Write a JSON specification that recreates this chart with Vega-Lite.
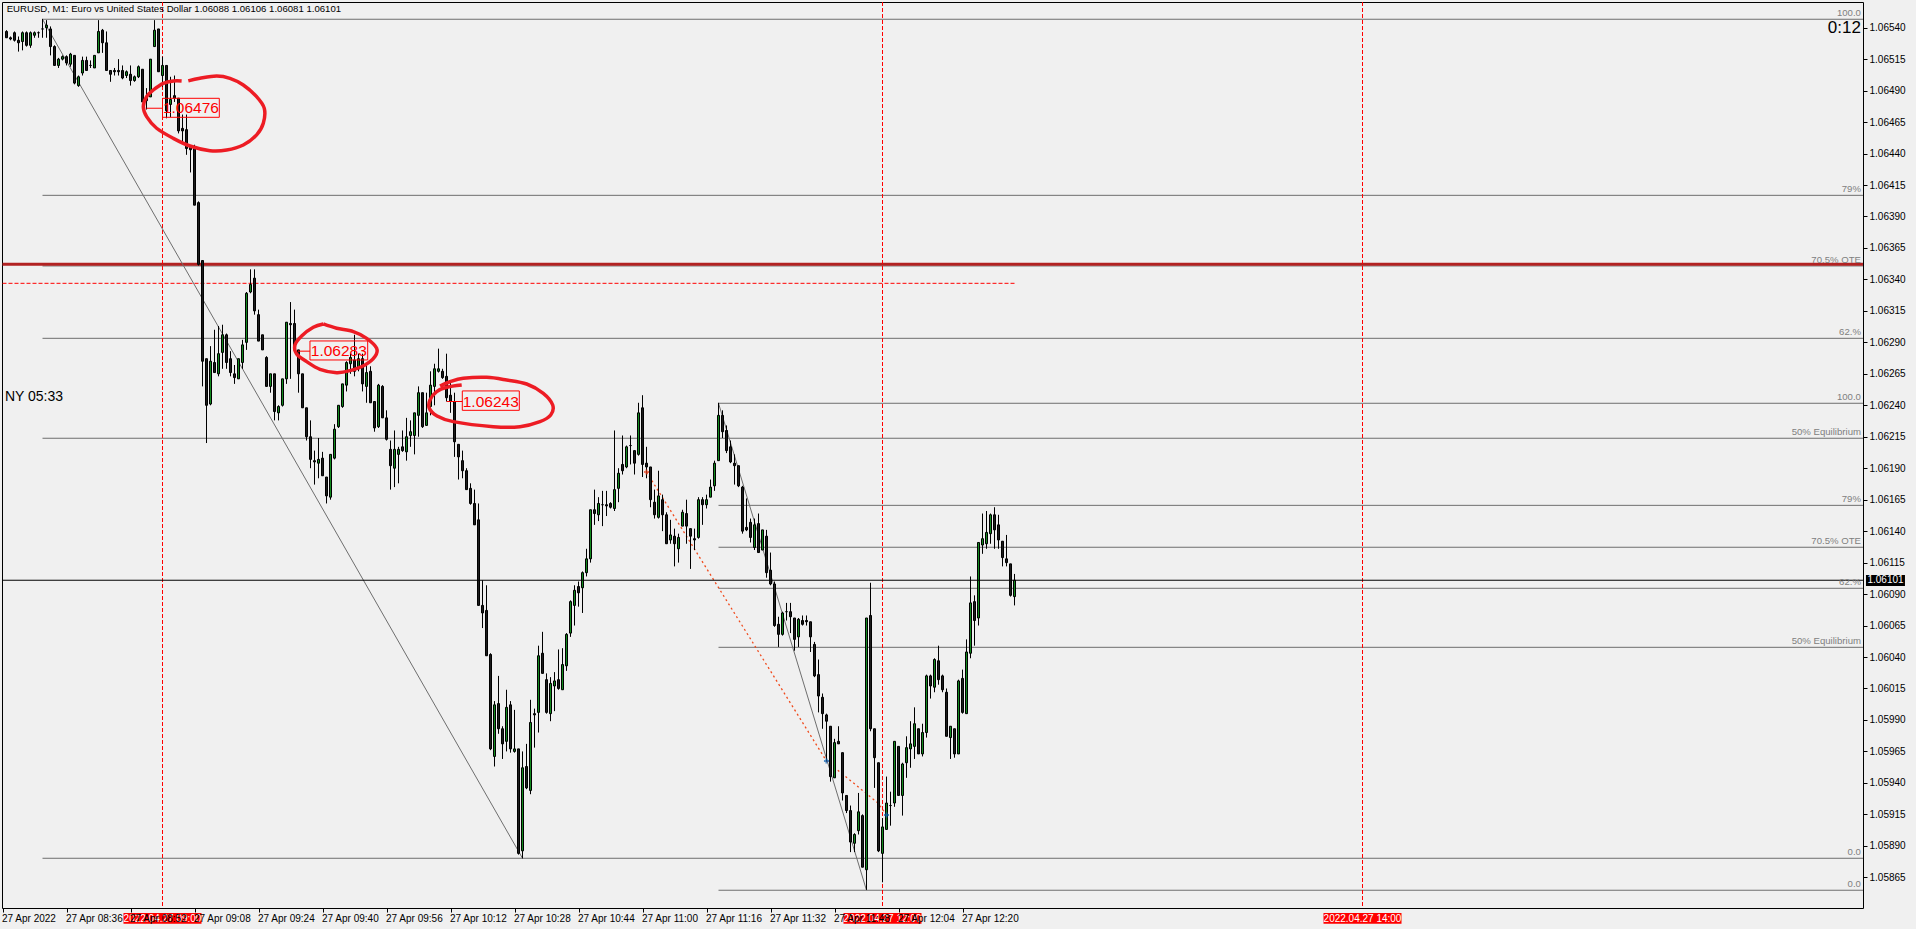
{"$schema":"https://vega.github.io/schema/vega-lite/v6.json","width":1861,"height":906,"autosize":"none","padding":{"left":2,"top":2,"right":53,"bottom":21},"background":"#f0f0f0","config":{"view":{"stroke":"#000000","strokeWidth":1,"fill":"#f0f0f0"},"font":"Liberation Sans","scale":{"continuousPadding":0}},
"datasets":{"candles":[
{"t":"2022-04-27T08:21","o":1.06537,"h":1.06538,"l":1.06532,"c":1.06532},
{"t":"2022-04-27T08:22","o":1.06532,"h":1.06533,"l":1.0653,"c":1.06531},
{"t":"2022-04-27T08:23","o":1.06536,"h":1.06537,"l":1.06529,"c":1.0653},
{"t":"2022-04-27T08:24","o":1.0653,"h":1.06533,"l":1.06521,"c":1.06528},
{"t":"2022-04-27T08:25","o":1.06529,"h":1.06537,"l":1.06522,"c":1.06536},
{"t":"2022-04-27T08:26","o":1.06536,"h":1.06537,"l":1.06525,"c":1.06526},
{"t":"2022-04-27T08:27","o":1.06526,"h":1.06537,"l":1.06524,"c":1.06536},
{"t":"2022-04-27T08:28","o":1.06534,"h":1.06537,"l":1.06532,"c":1.06536},
{"t":"2022-04-27T08:29","o":1.06536,"h":1.06537,"l":1.06532,"c":1.06536},
{"t":"2022-04-27T08:30","o":1.06539,"h":1.06547,"l":1.06532,"c":1.06539},
{"t":"2022-04-27T08:31","o":1.0654,"h":1.06546,"l":1.06532,"c":1.06542},
{"t":"2022-04-27T08:32","o":1.06539,"h":1.06541,"l":1.06518,"c":1.06525},
{"t":"2022-04-27T08:33","o":1.06525,"h":1.06526,"l":1.0651,"c":1.0651},
{"t":"2022-04-27T08:34","o":1.0651,"h":1.06516,"l":1.06508,"c":1.06515},
{"t":"2022-04-27T08:35","o":1.06515,"h":1.06518,"l":1.06514,"c":1.06517},
{"t":"2022-04-27T08:36","o":1.06517,"h":1.06518,"l":1.0651,"c":1.06512},
{"t":"2022-04-27T08:37","o":1.06511,"h":1.0652,"l":1.06509,"c":1.06519},
{"t":"2022-04-27T08:38","o":1.06518,"h":1.06518,"l":1.06495,"c":1.06496},
{"t":"2022-04-27T08:39","o":1.06494,"h":1.06502,"l":1.06493,"c":1.06501},
{"t":"2022-04-27T08:40","o":1.06504,"h":1.06517,"l":1.06502,"c":1.06514},
{"t":"2022-04-27T08:41","o":1.06514,"h":1.06517,"l":1.06506,"c":1.06506},
{"t":"2022-04-27T08:42","o":1.0651,"h":1.06514,"l":1.06508,"c":1.0651},
{"t":"2022-04-27T08:43","o":1.06508,"h":1.06518,"l":1.06508,"c":1.06518},
{"t":"2022-04-27T08:44","o":1.0652,"h":1.06546,"l":1.0652,"c":1.06537},
{"t":"2022-04-27T08:45","o":1.06538,"h":1.06539,"l":1.0652,"c":1.06528},
{"t":"2022-04-27T08:46","o":1.06528,"h":1.06537,"l":1.06506,"c":1.06506},
{"t":"2022-04-27T08:47","o":1.06506,"h":1.06506,"l":1.06497,"c":1.06503},
{"t":"2022-04-27T08:48","o":1.06506,"h":1.06508,"l":1.06502,"c":1.06505},
{"t":"2022-04-27T08:49","o":1.06506,"h":1.06515,"l":1.06502,"c":1.06505},
{"t":"2022-04-27T08:50","o":1.06506,"h":1.0651,"l":1.06499,"c":1.065},
{"t":"2022-04-27T08:51","o":1.06502,"h":1.06506,"l":1.065,"c":1.06505},
{"t":"2022-04-27T08:52","o":1.06503,"h":1.0651,"l":1.06494,"c":1.06498},
{"t":"2022-04-27T08:53","o":1.06498,"h":1.06502,"l":1.06497,"c":1.06501},
{"t":"2022-04-27T08:54","o":1.06501,"h":1.0651,"l":1.065,"c":1.06509},
{"t":"2022-04-27T08:55","o":1.06507,"h":1.06507,"l":1.06481,"c":1.06481},
{"t":"2022-04-27T08:56","o":1.06484,"h":1.06492,"l":1.06475,"c":1.06482},
{"t":"2022-04-27T08:57","o":1.06485,"h":1.06515,"l":1.06485,"c":1.06515},
{"t":"2022-04-27T08:58","o":1.06525,"h":1.06546,"l":1.06525,"c":1.06538},
{"t":"2022-04-27T08:59","o":1.06539,"h":1.06539,"l":1.06505,"c":1.06505},
{"t":"2022-04-27T09:00","o":1.06502,"h":1.06517,"l":1.06493,"c":1.0651},
{"t":"2022-04-27T09:01","o":1.0651,"h":1.0651,"l":1.06468,"c":1.06474},
{"t":"2022-04-27T09:02","o":1.06479,"h":1.06501,"l":1.06469,"c":1.06483},
{"t":"2022-04-27T09:03","o":1.06486,"h":1.06502,"l":1.06481,"c":1.06484},
{"t":"2022-04-27T09:04","o":1.06484,"h":1.06484,"l":1.06456,"c":1.06458},
{"t":"2022-04-27T09:05","o":1.0646,"h":1.06471,"l":1.06449,"c":1.06458},
{"t":"2022-04-27T09:06","o":1.06459,"h":1.06471,"l":1.06439,"c":1.06444},
{"t":"2022-04-27T09:07","o":1.06445,"h":1.06446,"l":1.06425,"c":1.06443},
{"t":"2022-04-27T09:08","o":1.06445,"h":1.06447,"l":1.06399,"c":1.06399},
{"t":"2022-04-27T09:09","o":1.06401,"h":1.06402,"l":1.06351,"c":1.06352},
{"t":"2022-04-27T09:10","o":1.06355,"h":1.06355,"l":1.06255,"c":1.06275},
{"t":"2022-04-27T09:11","o":1.06277,"h":1.06277,"l":1.0621,"c":1.0624},
{"t":"2022-04-27T09:12","o":1.06241,"h":1.06287,"l":1.0624,"c":1.06275},
{"t":"2022-04-27T09:13","o":1.06274,"h":1.063,"l":1.06266,"c":1.06266},
{"t":"2022-04-27T09:14","o":1.06265,"h":1.06303,"l":1.06263,"c":1.06281},
{"t":"2022-04-27T09:15","o":1.06282,"h":1.06304,"l":1.06269,"c":1.06296},
{"t":"2022-04-27T09:16","o":1.06296,"h":1.06297,"l":1.06269,"c":1.06274},
{"t":"2022-04-27T09:17","o":1.06277,"h":1.06283,"l":1.06263,"c":1.06266},
{"t":"2022-04-27T09:18","o":1.06265,"h":1.06272,"l":1.06257,"c":1.06262},
{"t":"2022-04-27T09:19","o":1.06261,"h":1.06277,"l":1.06261,"c":1.06277},
{"t":"2022-04-27T09:20","o":1.06274,"h":1.06292,"l":1.06269,"c":1.06288},
{"t":"2022-04-27T09:21","o":1.0629,"h":1.0633,"l":1.06284,"c":1.06329},
{"t":"2022-04-27T09:22","o":1.0633,"h":1.06348,"l":1.06329,"c":1.06336},
{"t":"2022-04-27T09:23","o":1.06341,"h":1.06348,"l":1.06312,"c":1.06315},
{"t":"2022-04-27T09:24","o":1.06312,"h":1.06316,"l":1.06291,"c":1.06291},
{"t":"2022-04-27T09:25","o":1.06296,"h":1.06296,"l":1.06284,"c":1.06284},
{"t":"2022-04-27T09:26","o":1.06278,"h":1.06279,"l":1.06255,"c":1.06255},
{"t":"2022-04-27T09:27","o":1.06255,"h":1.06265,"l":1.0625,"c":1.06265},
{"t":"2022-04-27T09:28","o":1.06265,"h":1.06265,"l":1.06228,"c":1.06235},
{"t":"2022-04-27T09:29","o":1.06234,"h":1.0624,"l":1.06228,"c":1.06239},
{"t":"2022-04-27T09:30","o":1.0624,"h":1.06261,"l":1.06239,"c":1.06261},
{"t":"2022-04-27T09:31","o":1.06261,"h":1.06306,"l":1.06257,"c":1.06306},
{"t":"2022-04-27T09:32","o":1.06305,"h":1.06322,"l":1.06261,"c":1.06304},
{"t":"2022-04-27T09:33","o":1.06305,"h":1.06316,"l":1.06284,"c":1.06284},
{"t":"2022-04-27T09:34","o":1.06284,"h":1.06284,"l":1.0625,"c":1.06265},
{"t":"2022-04-27T09:35","o":1.06265,"h":1.06265,"l":1.06238,"c":1.06238},
{"t":"2022-04-27T09:36","o":1.06238,"h":1.06238,"l":1.06212,"c":1.06215},
{"t":"2022-04-27T09:37","o":1.06215,"h":1.06228,"l":1.0619,"c":1.06197},
{"t":"2022-04-27T09:38","o":1.06196,"h":1.06204,"l":1.06177,"c":1.06195},
{"t":"2022-04-27T09:39","o":1.06194,"h":1.06214,"l":1.06182,"c":1.06197},
{"t":"2022-04-27T09:40","o":1.06198,"h":1.06203,"l":1.06184,"c":1.06184},
{"t":"2022-04-27T09:41","o":1.06183,"h":1.06183,"l":1.06162,"c":1.06168},
{"t":"2022-04-27T09:42","o":1.06167,"h":1.06201,"l":1.06165,"c":1.06201},
{"t":"2022-04-27T09:43","o":1.06198,"h":1.06225,"l":1.06197,"c":1.06221},
{"t":"2022-04-27T09:44","o":1.06223,"h":1.0624,"l":1.06222,"c":1.0624},
{"t":"2022-04-27T09:45","o":1.06239,"h":1.06257,"l":1.06238,"c":1.06257},
{"t":"2022-04-27T09:46","o":1.06256,"h":1.06275,"l":1.06251,"c":1.06274},
{"t":"2022-04-27T09:47","o":1.06273,"h":1.06281,"l":1.06265,"c":1.06278},
{"t":"2022-04-27T09:48","o":1.06276,"h":1.06296,"l":1.06263,"c":1.06267},
{"t":"2022-04-27T09:49","o":1.06269,"h":1.06281,"l":1.06267,"c":1.06277},
{"t":"2022-04-27T09:50","o":1.06277,"h":1.06281,"l":1.06251,"c":1.06257},
{"t":"2022-04-27T09:51","o":1.06255,"h":1.06273,"l":1.06242,"c":1.06266},
{"t":"2022-04-27T09:52","o":1.06267,"h":1.06271,"l":1.06242,"c":1.06242},
{"t":"2022-04-27T09:53","o":1.06243,"h":1.06243,"l":1.06219,"c":1.06222},
{"t":"2022-04-27T09:54","o":1.06223,"h":1.06257,"l":1.06222,"c":1.06256},
{"t":"2022-04-27T09:55","o":1.06255,"h":1.06256,"l":1.0623,"c":1.0623},
{"t":"2022-04-27T09:56","o":1.0623,"h":1.06236,"l":1.06212,"c":1.06213},
{"t":"2022-04-27T09:57","o":1.06205,"h":1.06212,"l":1.06173,"c":1.06192},
{"t":"2022-04-27T09:58","o":1.0619,"h":1.0622,"l":1.06175,"c":1.06205},
{"t":"2022-04-27T09:59","o":1.06201,"h":1.06207,"l":1.06178,"c":1.06205},
{"t":"2022-04-27T10:00","o":1.06207,"h":1.0622,"l":1.06203,"c":1.06204},
{"t":"2022-04-27T10:01","o":1.06203,"h":1.0623,"l":1.06196,"c":1.06215},
{"t":"2022-04-27T10:02","o":1.06216,"h":1.06228,"l":1.06207,"c":1.06219},
{"t":"2022-04-27T10:03","o":1.06216,"h":1.06234,"l":1.06201,"c":1.06234},
{"t":"2022-04-27T10:04","o":1.06232,"h":1.06255,"l":1.06215,"c":1.0625},
{"t":"2022-04-27T10:05","o":1.0625,"h":1.0625,"l":1.06222,"c":1.06223},
{"t":"2022-04-27T10:06","o":1.06224,"h":1.0625,"l":1.06224,"c":1.06234},
{"t":"2022-04-27T10:07","o":1.06239,"h":1.06267,"l":1.06232,"c":1.06256},
{"t":"2022-04-27T10:08","o":1.06255,"h":1.06273,"l":1.0624,"c":1.06269},
{"t":"2022-04-27T10:09","o":1.06267,"h":1.06285,"l":1.06266,"c":1.06269},
{"t":"2022-04-27T10:10","o":1.06267,"h":1.06269,"l":1.06261,"c":1.06262},
{"t":"2022-04-27T10:11","o":1.06263,"h":1.06281,"l":1.06243,"c":1.06246},
{"t":"2022-04-27T10:12","o":1.06248,"h":1.0626,"l":1.06234,"c":1.06243},
{"t":"2022-04-27T10:13","o":1.06243,"h":1.0625,"l":1.06199,"c":1.06211},
{"t":"2022-04-27T10:14","o":1.06209,"h":1.06209,"l":1.06181,"c":1.06199},
{"t":"2022-04-27T10:15","o":1.06196,"h":1.06204,"l":1.06182,"c":1.06188},
{"t":"2022-04-27T10:16","o":1.06188,"h":1.0619,"l":1.06173,"c":1.06173},
{"t":"2022-04-27T10:17","o":1.06174,"h":1.06178,"l":1.06161,"c":1.06162},
{"t":"2022-04-27T10:18","o":1.06162,"h":1.06173,"l":1.06145,"c":1.06145},
{"t":"2022-04-27T10:19","o":1.06149,"h":1.06162,"l":1.06081,"c":1.06081},
{"t":"2022-04-27T10:20","o":1.06081,"h":1.06101,"l":1.06063,"c":1.06075},
{"t":"2022-04-27T10:21","o":1.06077,"h":1.06097,"l":1.06041,"c":1.06041},
{"t":"2022-04-27T10:22","o":1.06042,"h":1.06043,"l":1.05966,"c":1.05967},
{"t":"2022-04-27T10:23","o":1.05961,"h":1.06005,"l":1.05953,"c":1.06002},
{"t":"2022-04-27T10:24","o":1.06003,"h":1.06025,"l":1.05979,"c":1.05983},
{"t":"2022-04-27T10:25","o":1.05983,"h":1.05985,"l":1.05959,"c":1.05971},
{"t":"2022-04-27T10:26","o":1.05973,"h":1.06014,"l":1.05965,"c":1.06},
{"t":"2022-04-27T10:27","o":1.06002,"h":1.06005,"l":1.05964,"c":1.05967},
{"t":"2022-04-27T10:28","o":1.05965,"h":1.05998,"l":1.05964,"c":1.05967},
{"t":"2022-04-27T10:29","o":1.05967,"h":1.05967,"l":1.05883,"c":1.05884},
{"t":"2022-04-27T10:30","o":1.05886,"h":1.05965,"l":1.0588,"c":1.05952},
{"t":"2022-04-27T10:31","o":1.05953,"h":1.05971,"l":1.05935,"c":1.05936},
{"t":"2022-04-27T10:32","o":1.05934,"h":1.06006,"l":1.05931,"c":1.05988},
{"t":"2022-04-27T10:33","o":1.05995,"h":1.05999,"l":1.05968,"c":1.05994},
{"t":"2022-04-27T10:34","o":1.05996,"h":1.06049,"l":1.0598,"c":1.06041},
{"t":"2022-04-27T10:35","o":1.06043,"h":1.0606,"l":1.06027,"c":1.06027},
{"t":"2022-04-27T10:36","o":1.06022,"h":1.06027,"l":1.05995,"c":1.05996},
{"t":"2022-04-27T10:37","o":1.05995,"h":1.06024,"l":1.05989,"c":1.06019},
{"t":"2022-04-27T10:38","o":1.06017,"h":1.06028,"l":1.05997,"c":1.06021},
{"t":"2022-04-27T10:39","o":1.06022,"h":1.06046,"l":1.06014,"c":1.06015},
{"t":"2022-04-27T10:40","o":1.06014,"h":1.06047,"l":1.06014,"c":1.06034},
{"t":"2022-04-27T10:41","o":1.06033,"h":1.06059,"l":1.06029,"c":1.06058},
{"t":"2022-04-27T10:42","o":1.06059,"h":1.06085,"l":1.06056,"c":1.06084},
{"t":"2022-04-27T10:43","o":1.06081,"h":1.06097,"l":1.06065,"c":1.06093},
{"t":"2022-04-27T10:44","o":1.06096,"h":1.061,"l":1.0608,"c":1.06091},
{"t":"2022-04-27T10:45","o":1.06095,"h":1.06108,"l":1.06075,"c":1.06107},
{"t":"2022-04-27T10:46","o":1.06107,"h":1.06126,"l":1.06104,"c":1.06118},
{"t":"2022-04-27T10:47","o":1.06118,"h":1.06157,"l":1.06115,"c":1.06157},
{"t":"2022-04-27T10:48","o":1.06157,"h":1.06173,"l":1.06145,"c":1.06154},
{"t":"2022-04-27T10:49","o":1.06153,"h":1.06167,"l":1.06148,"c":1.06162},
{"t":"2022-04-27T10:50","o":1.06161,"h":1.06172,"l":1.06144,"c":1.06161},
{"t":"2022-04-27T10:51","o":1.06161,"h":1.06172,"l":1.06152,"c":1.0616},
{"t":"2022-04-27T10:52","o":1.06162,"h":1.06163,"l":1.06158,"c":1.06159},
{"t":"2022-04-27T10:53","o":1.06158,"h":1.0622,"l":1.06156,"c":1.06173},
{"t":"2022-04-27T10:54","o":1.06174,"h":1.0619,"l":1.06163,"c":1.06186},
{"t":"2022-04-27T10:55","o":1.06193,"h":1.06216,"l":1.06185,"c":1.06188},
{"t":"2022-04-27T10:56","o":1.06191,"h":1.06208,"l":1.0619,"c":1.06207},
{"t":"2022-04-27T10:57","o":1.06208,"h":1.06216,"l":1.06193,"c":1.06208},
{"t":"2022-04-27T10:58","o":1.06204,"h":1.06204,"l":1.06185,"c":1.06194},
{"t":"2022-04-27T10:59","o":1.06201,"h":1.06242,"l":1.062,"c":1.06234},
{"t":"2022-04-27T11:00","o":1.06238,"h":1.06248,"l":1.06183,"c":1.06193},
{"t":"2022-04-27T11:01","o":1.06194,"h":1.06207,"l":1.06182,"c":1.06191},
{"t":"2022-04-27T11:02","o":1.06191,"h":1.06191,"l":1.06159,"c":1.06165},
{"t":"2022-04-27T11:03","o":1.06163,"h":1.06173,"l":1.0615,"c":1.06153},
{"t":"2022-04-27T11:04","o":1.06151,"h":1.06188,"l":1.0615,"c":1.06168},
{"t":"2022-04-27T11:05","o":1.06165,"h":1.06169,"l":1.0614,"c":1.06153},
{"t":"2022-04-27T11:06","o":1.06153,"h":1.06155,"l":1.0613,"c":1.0613},
{"t":"2022-04-27T11:07","o":1.06133,"h":1.06149,"l":1.0613,"c":1.06137},
{"t":"2022-04-27T11:08","o":1.06136,"h":1.06142,"l":1.06112,"c":1.0613},
{"t":"2022-04-27T11:09","o":1.06126,"h":1.06138,"l":1.06115,"c":1.06135},
{"t":"2022-04-27T11:10","o":1.06144,"h":1.06157,"l":1.06144,"c":1.06155},
{"t":"2022-04-27T11:11","o":1.06154,"h":1.06165,"l":1.0613,"c":1.06144},
{"t":"2022-04-27T11:12","o":1.06142,"h":1.06142,"l":1.0611,"c":1.06136},
{"t":"2022-04-27T11:13","o":1.06134,"h":1.06142,"l":1.06125,"c":1.06133},
{"t":"2022-04-27T11:14","o":1.06135,"h":1.06167,"l":1.06134,"c":1.06165},
{"t":"2022-04-27T11:15","o":1.06165,"h":1.06167,"l":1.06145,"c":1.06161},
{"t":"2022-04-27T11:16","o":1.06161,"h":1.06169,"l":1.06158,"c":1.06165},
{"t":"2022-04-27T11:17","o":1.06167,"h":1.06181,"l":1.06167,"c":1.06175},
{"t":"2022-04-27T11:18","o":1.06176,"h":1.06196,"l":1.06172,"c":1.06194},
{"t":"2022-04-27T11:19","o":1.06196,"h":1.06242,"l":1.06196,"c":1.06232},
{"t":"2022-04-27T11:20","o":1.06232,"h":1.06236,"l":1.06214,"c":1.06219},
{"t":"2022-04-27T11:21","o":1.0622,"h":1.06224,"l":1.06202,"c":1.06204},
{"t":"2022-04-27T11:22","o":1.06207,"h":1.06212,"l":1.06194,"c":1.06195},
{"t":"2022-04-27T11:23","o":1.06194,"h":1.06201,"l":1.06177,"c":1.06192},
{"t":"2022-04-27T11:24","o":1.06192,"h":1.06192,"l":1.06175,"c":1.06176},
{"t":"2022-04-27T11:25","o":1.06175,"h":1.06176,"l":1.06138,"c":1.0614},
{"t":"2022-04-27T11:26","o":1.06143,"h":1.06166,"l":1.0614,"c":1.06141},
{"t":"2022-04-27T11:27","o":1.06147,"h":1.0615,"l":1.06131,"c":1.06135},
{"t":"2022-04-27T11:28","o":1.06127,"h":1.0615,"l":1.06125,"c":1.06145},
{"t":"2022-04-27T11:29","o":1.06146,"h":1.06154,"l":1.06123,"c":1.06123},
{"t":"2022-04-27T11:30","o":1.06125,"h":1.06141,"l":1.06125,"c":1.06141},
{"t":"2022-04-27T11:31","o":1.06136,"h":1.06141,"l":1.06103,"c":1.06107},
{"t":"2022-04-27T11:32","o":1.06109,"h":1.06123,"l":1.06097,"c":1.06098},
{"t":"2022-04-27T11:33","o":1.06098,"h":1.061,"l":1.06064,"c":1.06065},
{"t":"2022-04-27T11:34","o":1.06066,"h":1.06072,"l":1.06048,"c":1.06058},
{"t":"2022-04-27T11:35","o":1.06058,"h":1.06076,"l":1.06057,"c":1.06075},
{"t":"2022-04-27T11:36","o":1.06076,"h":1.06083,"l":1.06069,"c":1.06076},
{"t":"2022-04-27T11:37","o":1.06076,"h":1.06083,"l":1.06059,"c":1.06072},
{"t":"2022-04-27T11:38","o":1.06071,"h":1.06071,"l":1.06045,"c":1.06054},
{"t":"2022-04-27T11:39","o":1.06056,"h":1.06071,"l":1.06048,"c":1.0607},
{"t":"2022-04-27T11:40","o":1.06069,"h":1.06073,"l":1.06065,"c":1.06066},
{"t":"2022-04-27T11:41","o":1.06069,"h":1.06073,"l":1.06065,"c":1.06068},
{"t":"2022-04-27T11:42","o":1.06068,"h":1.06068,"l":1.06044,"c":1.06056},
{"t":"2022-04-27T11:43","o":1.0605,"h":1.06052,"l":1.06024,"c":1.06025},
{"t":"2022-04-27T11:44","o":1.06026,"h":1.06038,"l":1.05996,"c":1.06009},
{"t":"2022-04-27T11:45","o":1.06008,"h":1.06011,"l":1.05983,"c":1.05995},
{"t":"2022-04-27T11:46","o":1.05994,"h":1.05995,"l":1.05957,"c":1.05989},
{"t":"2022-04-27T11:47","o":1.05985,"h":1.05985,"l":1.05941,"c":1.05945},
{"t":"2022-04-27T11:48","o":1.05944,"h":1.05975,"l":1.05944,"c":1.05972},
{"t":"2022-04-27T11:49","o":1.05973,"h":1.05985,"l":1.05971,"c":1.05971},
{"t":"2022-04-27T11:50","o":1.05964,"h":1.05964,"l":1.05926,"c":1.05932},
{"t":"2022-04-27T11:51","o":1.0593,"h":1.0593,"l":1.05916,"c":1.05918},
{"t":"2022-04-27T11:52","o":1.05918,"h":1.05922,"l":1.05885,"c":1.05893},
{"t":"2022-04-27T11:53","o":1.05892,"h":1.059,"l":1.05885,"c":1.05899},
{"t":"2022-04-27T11:54","o":1.05902,"h":1.05932,"l":1.05899,"c":1.05917},
{"t":"2022-04-27T11:55","o":1.05914,"h":1.05915,"l":1.05873,"c":1.05873},
{"t":"2022-04-27T11:56","o":1.05871,"h":1.06071,"l":1.05855,"c":1.06071},
{"t":"2022-04-27T11:57","o":1.06073,"h":1.06099,"l":1.05981,"c":1.05983},
{"t":"2022-04-27T11:58","o":1.05983,"h":1.05983,"l":1.05936,"c":1.0596},
{"t":"2022-04-27T11:59","o":1.05956,"h":1.05956,"l":1.05885,"c":1.05886},
{"t":"2022-04-27T12:00","o":1.05884,"h":1.05912,"l":1.05861,"c":1.05905},
{"t":"2022-04-27T12:01","o":1.05903,"h":1.05945,"l":1.05903,"c":1.05924},
{"t":"2022-04-27T12:02","o":1.05922,"h":1.05933,"l":1.05906,"c":1.05922},
{"t":"2022-04-27T12:03","o":1.05924,"h":1.05973,"l":1.05921,"c":1.05973},
{"t":"2022-04-27T12:04","o":1.05969,"h":1.05969,"l":1.0593,"c":1.0593},
{"t":"2022-04-27T12:05","o":1.0593,"h":1.05956,"l":1.05914,"c":1.05955},
{"t":"2022-04-27T12:06","o":1.05956,"h":1.05977,"l":1.05944,"c":1.05968},
{"t":"2022-04-27T12:07","o":1.05967,"h":1.05989,"l":1.05952,"c":1.05971},
{"t":"2022-04-27T12:08","o":1.05969,"h":1.06,"l":1.05959,"c":1.05987},
{"t":"2022-04-27T12:09","o":1.05983,"h":1.05983,"l":1.05963,"c":1.05963},
{"t":"2022-04-27T12:10","o":1.05963,"h":1.05987,"l":1.05961,"c":1.0598},
{"t":"2022-04-27T12:11","o":1.0598,"h":1.06026,"l":1.05976,"c":1.06025},
{"t":"2022-04-27T12:12","o":1.06025,"h":1.06026,"l":1.06007,"c":1.06017},
{"t":"2022-04-27T12:13","o":1.06016,"h":1.06039,"l":1.06012,"c":1.06038},
{"t":"2022-04-27T12:14","o":1.06037,"h":1.06049,"l":1.06018,"c":1.06022},
{"t":"2022-04-27T12:15","o":1.06025,"h":1.06026,"l":1.06012,"c":1.06014},
{"t":"2022-04-27T12:16","o":1.06012,"h":1.06015,"l":1.05977,"c":1.05977},
{"t":"2022-04-27T12:17","o":1.05976,"h":1.05985,"l":1.05959,"c":1.05985},
{"t":"2022-04-27T12:18","o":1.05983,"h":1.05983,"l":1.0596,"c":1.05963},
{"t":"2022-04-27T12:19","o":1.05963,"h":1.06022,"l":1.05963,"c":1.06021},
{"t":"2022-04-27T12:20","o":1.06023,"h":1.0603,"l":1.05995,"c":1.05996},
{"t":"2022-04-27T12:21","o":1.05995,"h":1.06054,"l":1.05995,"c":1.06044},
{"t":"2022-04-27T12:22","o":1.06043,"h":1.06104,"l":1.06039,"c":1.06083},
{"t":"2022-04-27T12:23","o":1.06084,"h":1.06089,"l":1.06049,"c":1.06069},
{"t":"2022-04-27T12:24","o":1.06071,"h":1.06131,"l":1.06065,"c":1.06131},
{"t":"2022-04-27T12:25","o":1.06129,"h":1.06154,"l":1.06122,"c":1.06134},
{"t":"2022-04-27T12:26","o":1.0613,"h":1.06156,"l":1.06126,"c":1.06139},
{"t":"2022-04-27T12:27","o":1.06138,"h":1.06154,"l":1.0613,"c":1.06153},
{"t":"2022-04-27T12:28","o":1.06153,"h":1.06159,"l":1.06126,"c":1.06141},
{"t":"2022-04-27T12:29","o":1.06145,"h":1.06153,"l":1.06126,"c":1.06133},
{"t":"2022-04-27T12:30","o":1.06132,"h":1.06132,"l":1.06112,"c":1.06119},
{"t":"2022-04-27T12:31","o":1.06118,"h":1.06137,"l":1.06112,"c":1.06115},
{"t":"2022-04-27T12:32","o":1.06114,"h":1.06114,"l":1.06088,"c":1.06089},
{"t":"2022-04-27T12:33","o":1.06088,"h":1.06106,"l":1.06081,"c":1.06101}
],
"fib":[
{"t":"2022-04-27T08:30","t2":"2022-04-27T16:05:07","p":1.065467,"s":"100.0"},
{"t":"2022-04-27T08:30","t2":"2022-04-27T16:05:07","p":1.064068,"s":"79%"},
{"t":"2022-04-27T08:30","t2":"2022-04-27T16:05:07","p":1.063507,"s":"70.5% OTE"},
{"t":"2022-04-27T08:30","t2":"2022-04-27T16:05:07","p":1.062932,"s":"62.%"},
{"t":"2022-04-27T08:30","t2":"2022-04-27T16:05:07","p":1.062138,"s":"50% Equilibrium"},
{"t":"2022-04-27T08:30","t2":"2022-04-27T16:05:07","p":1.058801,"s":"0.0"},
{"t":"2022-04-27T11:19","t2":"2022-04-27T16:05:07","p":1.062416,"s":"100.0"},
{"t":"2022-04-27T11:19","t2":"2022-04-27T16:05:07","p":1.061605,"s":"79%"},
{"t":"2022-04-27T11:19","t2":"2022-04-27T16:05:07","p":1.061272,"s":"70.5% OTE"},
{"t":"2022-04-27T11:19","t2":"2022-04-27T16:05:07","p":1.060946,"s":"62.%"},
{"t":"2022-04-27T11:19","t2":"2022-04-27T16:05:07","p":1.060477,"s":"50% Equilibrium"},
{"t":"2022-04-27T11:19","t2":"2022-04-27T16:05:07","p":1.058547,"s":"0.0"}
],
"tags":[
{"t":"2022-04-27T09:00:00","t2":"2022-04-27T09:14:12","tm":"2022-04-27T09:07:06","pTop":1.064839,"pBot":1.064688,"pMid":1.06476,"t0":"2022-04-27T08:56:00","s":"1.06476"},
{"t":"2022-04-27T09:36:52","t2":"2022-04-27T09:51:18","tm":"2022-04-27T09:44:05","pTop":1.062911,"pBot":1.06276,"pMid":1.06283,"t0":"2022-04-27T09:33:52","s":"1.06283"},
{"t":"2022-04-27T10:14:57","t2":"2022-04-27T10:29:12","tm":"2022-04-27T10:22:04","pTop":1.062514,"pBot":1.06236,"pMid":1.06243,"t0":"2022-04-27T10:11:03","s":"1.06243"}
],
"ink":[
{"id":1,"i":1,"t":"2022-04-27T09:06:27","p":1.064977},{"id":1,"i":2,"t":"2022-04-27T09:09:22","p":1.064998},{"id":1,"i":3,"t":"2022-04-27T09:13:32","p":1.065016},{"id":1,"i":4,"t":"2022-04-27T09:16:52","p":1.064998},{"id":1,"i":5,"t":"2022-04-27T09:20:12","p":1.064945},{"id":1,"i":6,"t":"2022-04-27T09:23:32","p":1.064852},{"id":1,"i":7,"t":"2022-04-27T09:25:27","p":1.064759},{"id":1,"i":8,"t":"2022-04-27T09:25:12","p":1.06464},{"id":1,"i":9,"t":"2022-04-27T09:23:32","p":1.064548},{"id":1,"i":10,"t":"2022-04-27T09:20:12","p":1.064468},{"id":1,"i":11,"t":"2022-04-27T09:16:02","p":1.064428},{"id":1,"i":12,"t":"2022-04-27T09:11:52","p":1.064423},{"id":1,"i":13,"t":"2022-04-27T09:06:52","p":1.06446},{"id":1,"i":14,"t":"2022-04-27T09:02:42","p":1.064521},{"id":1,"i":15,"t":"2022-04-27T08:58:32","p":1.064601},{"id":1,"i":16,"t":"2022-04-27T08:56:02","p":1.064693},{"id":1,"i":17,"t":"2022-04-27T08:55:12","p":1.064773},{"id":1,"i":18,"t":"2022-04-27T08:56:02","p":1.064852},{"id":1,"i":19,"t":"2022-04-27T08:57:42","p":1.064905},{"id":1,"i":20,"t":"2022-04-27T09:00:12","p":1.064958},{"id":1,"i":21,"t":"2022-04-27T09:02:42","p":1.064977},{"id":1,"i":22,"t":"2022-04-27T09:04:47","p":1.064977},
{"id":2,"i":1,"t":"2022-04-27T09:40:12","p":1.063046},{"id":2,"i":2,"t":"2022-04-27T09:43:32","p":1.063012},{"id":2,"i":3,"t":"2022-04-27T09:47:42","p":1.062985},{"id":2,"i":4,"t":"2022-04-27T09:51:02","p":1.062932},{"id":2,"i":5,"t":"2022-04-27T09:53:32","p":1.062853},{"id":2,"i":6,"t":"2022-04-27T09:53:07","p":1.062787},{"id":2,"i":7,"t":"2022-04-27T09:50:37","p":1.06272},{"id":2,"i":8,"t":"2022-04-27T09:46:52","p":1.062675},{"id":2,"i":9,"t":"2022-04-27T09:43:32","p":1.062659},{"id":2,"i":10,"t":"2022-04-27T09:39:22","p":1.062686},{"id":2,"i":11,"t":"2022-04-27T09:36:02","p":1.062747},{"id":2,"i":12,"t":"2022-04-27T09:33:32","p":1.062808},{"id":2,"i":13,"t":"2022-04-27T09:33:07","p":1.062879},{"id":2,"i":14,"t":"2022-04-27T09:34:47","p":1.062951},{"id":2,"i":15,"t":"2022-04-27T09:37:42","p":1.06302},{"id":2,"i":16,"t":"2022-04-27T09:40:12","p":1.063046},
{"id":3,"i":1,"t":"2022-04-27T10:14:48","p":1.062561},{"id":3,"i":2,"t":"2022-04-27T10:11:03","p":1.062543},{"id":3,"i":3,"t":"2022-04-27T10:08:33","p":1.062508},{"id":3,"i":4,"t":"2022-04-27T10:06:52","p":1.062442},{"id":3,"i":5,"t":"2022-04-27T10:06:42","p":1.062376},{"id":3,"i":6,"t":"2022-04-27T10:08:33","p":1.062317},{"id":3,"i":7,"t":"2022-04-27T10:12:42","p":1.06227},{"id":3,"i":8,"t":"2022-04-27T10:22:42","p":1.06223},{"id":3,"i":9,"t":"2022-04-27T10:29:22","p":1.06223},{"id":3,"i":10,"t":"2022-04-27T10:34:22","p":1.06227},{"id":3,"i":11,"t":"2022-04-27T10:37:03","p":1.062323},{"id":3,"i":12,"t":"2022-04-27T10:37:33","p":1.062402},{"id":3,"i":13,"t":"2022-04-27T10:35:12","p":1.062495},{"id":3,"i":14,"t":"2022-04-27T10:31:03","p":1.062569},{"id":3,"i":15,"t":"2022-04-27T10:26:03","p":1.062601},{"id":3,"i":16,"t":"2022-04-27T10:21:03","p":1.062622},{"id":3,"i":17,"t":"2022-04-27T10:15:12","p":1.062614},{"id":3,"i":18,"t":"2022-04-27T10:11:52","p":1.062587},{"id":3,"i":19,"t":"2022-04-27T10:09:22","p":1.062553}
],
"axisTags":[
{"t":"2022-04-27T09:00","pTop":1.058366,"pBot":1.058281,"pMid":1.05832,"s":"2022.04.27 09:00"},
{"t":"2022-04-27T12:00","pTop":1.058366,"pBot":1.058281,"pMid":1.05832,"s":"2022.04.27 12:00"},
{"t":"2022-04-27T14:00","pTop":1.058366,"pBot":1.058281,"pMid":1.05832,"s":"2022.04.27 14:00"}
]},
"layer":[
{"data":{"name":"fib"},"mark":{"type":"rule","color":"#6e6e6e","strokeWidth":1},"encoding":{
"x":{"field":"t","type":"temporal","title":null,"scale":{"padding":0,"nice":false,"domain":[{"year":2022,"month":4,"date":27,"hours":8,"minutes":19,"seconds":52,"milliseconds":500},{"year":2022,"month":4,"date":27,"hours":16,"minutes":5,"seconds":7,"milliseconds":500}]},
"axis":{"title":null,"zindex":1,"grid":false,"domain":false,"orient":"bottom","tickColor":"#000000","tickSize":4,"tickCount":40,"labelColor":"#000000","labelFont":"Liberation Sans","labelFontSize":10,"labelAlign":"left","labelBaseline":"top","labelPadding":1,"labelOffset":-1,"labelOverlap":false,"labelFlush":false,"labelBound":false,
"values":[{"year":2022,"month":4,"date":27,"hours":8,"minutes":20},{"year":2022,"month":4,"date":27,"hours":8,"minutes":36},{"year":2022,"month":4,"date":27,"hours":8,"minutes":52},{"year":2022,"month":4,"date":27,"hours":9,"minutes":8},{"year":2022,"month":4,"date":27,"hours":9,"minutes":24},{"year":2022,"month":4,"date":27,"hours":9,"minutes":40},{"year":2022,"month":4,"date":27,"hours":9,"minutes":56},{"year":2022,"month":4,"date":27,"hours":10,"minutes":12},{"year":2022,"month":4,"date":27,"hours":10,"minutes":28},{"year":2022,"month":4,"date":27,"hours":10,"minutes":44},{"year":2022,"month":4,"date":27,"hours":11,"minutes":0},{"year":2022,"month":4,"date":27,"hours":11,"minutes":16},{"year":2022,"month":4,"date":27,"hours":11,"minutes":32},{"year":2022,"month":4,"date":27,"hours":11,"minutes":48},{"year":2022,"month":4,"date":27,"hours":12,"minutes":4},{"year":2022,"month":4,"date":27,"hours":12,"minutes":20}],
"labelExpr":"hours(datum.value)==8&&minutes(datum.value)==20?'27 Apr 2022':timeFormat(datum.value,'%d %b %H:%M')"}},
"x2":{"field":"t2"},
"y":{"field":"p","type":"quantitative","title":null,"scale":{"domain":[1.0584059,1.0656041],"zero":false,"nice":false},
"axis":{"title":null,"zindex":1,"grid":false,"domain":false,"orient":"right","tickColor":"#000000","tickSize":4,"tickCount":40,"labelColor":"#000000","labelFont":"Liberation Sans","labelFontSize":10,"labelPadding":2,"labelOverlap":false,"labelBound":false,"labelFlush":false,"format":".5f",
"values":[1.0654,1.06515,1.0649,1.06465,1.0644,1.06415,1.0639,1.06365,1.0634,1.06315,1.0629,1.06265,1.0624,1.06215,1.0619,1.06165,1.0614,1.06115,1.0609,1.06065,1.0604,1.06015,1.0599,1.05965,1.0594,1.05915,1.0589,1.05865]}}}},
{"data":{"values":[{"t":"2022-04-27T08:20","t2":"2022-04-27T16:05:07","p":1.06352}]},"mark":{"type":"rule","color":"#b22222","strokeWidth":3},"encoding":{"x":{"field":"t","type":"temporal","title":null},"x2":{"field":"t2"},"y":{"field":"p","type":"quantitative","title":null}}},
{"data":{"values":[{"t":"2022-04-27T08:20","t2":"2022-04-27T12:33","p":1.063369}]},"mark":{"type":"rule","color":"#ff0000","strokeWidth":1,"strokeDash":[4,2]},"encoding":{"x":{"field":"t","type":"temporal","title":null},"x2":{"field":"t2"},"y":{"field":"p","type":"quantitative","title":null}}},
{"data":{"name":"axisTags"},"mark":{"type":"rule","color":"#ff0000","strokeWidth":1,"strokeDash":[4,2]},"encoding":{"x":{"field":"t","type":"temporal","title":null}}},
{"data":{"values":[{"id":1,"t":"2022-04-27T08:30","p":1.065467},{"id":1,"t":"2022-04-27T10:30","p":1.058801},{"id":2,"t":"2022-04-27T11:19","p":1.062416},{"id":2,"t":"2022-04-27T11:56","p":1.058547}]},"mark":{"type":"line","color":"#6e6e6e","strokeWidth":1},"encoding":{"x":{"field":"t","type":"temporal","title":null},"y":{"field":"p","type":"quantitative","title":null},"detail":{"field":"id"}}},
{"data":{"values":[{"t":"2022-04-27T11:01","p":1.06187},{"t":"2022-04-27T11:46","p":1.059574},{"t":"2022-04-27T11:58:52","p":1.05924},{"t":"2022-04-27T12:01","p":1.059145}]},"mark":{"type":"line","color":"#f04a1c","strokeWidth":1.3,"strokeDash":[2,3]},"encoding":{"x":{"field":"t","type":"temporal","title":null},"y":{"field":"p","type":"quantitative","title":null}}},
{"data":{"name":"candles"},"mark":{"type":"rule","color":"#000000","strokeWidth":1},"encoding":{"x":{"field":"t","type":"temporal","title":null},"y":{"field":"l","type":"quantitative","title":null},"y2":{"field":"h"}}},
{"data":{"name":"candles"},"mark":{"type":"bar","size":2,"stroke":"#000000","strokeWidth":1},"encoding":{"x":{"field":"t","type":"temporal","title":null},"y":{"field":"o","type":"quantitative","title":null},"y2":{"field":"c"},"fill":{"condition":{"test":"datum.c>datum.o","value":"#118a1e"},"value":"#1c1c1c"}}},
{"data":{"values":[{"t":"2022-04-27T11:01","p":1.06187}]},"mark":{"type":"point","shape":"cross","filled":true,"color":"#e8401c","size":26},"encoding":{"x":{"field":"t","type":"temporal","title":null},"y":{"field":"p","type":"quantitative","title":null}}},
{"data":{"values":[{"t":"2022-04-27T11:46","p":1.059574},{"t":"2022-04-27T12:01","p":1.059145}]},"mark":{"type":"point","shape":"cross","filled":true,"color":"#0a5fb0","size":26},"encoding":{"x":{"field":"t","type":"temporal","title":null},"y":{"field":"p","type":"quantitative","title":null}}},
{"data":{"values":[{"t":"2022-04-27T08:20","t2":"2022-04-27T16:05:07","p":1.06101}]},"mark":{"type":"rule","color":"#000000","strokeWidth":1},"encoding":{"x":{"field":"t","type":"temporal","title":null},"x2":{"field":"t2"},"y":{"field":"p","type":"quantitative","title":null}}},
{"data":{"name":"fib"},"mark":{"type":"text","align":"right","baseline":"bottom","color":"#808080","font":"Liberation Sans","fontSize":9.6,"dx":-2,"dy":-1},"encoding":{"x":{"field":"t2","type":"temporal","title":null},"y":{"field":"p","type":"quantitative","title":null},"text":{"field":"s"}}},
{"data":{"name":"tags"},"mark":{"type":"rule","color":"#ff0000","strokeWidth":1},"encoding":{"x":{"field":"t0","type":"temporal","title":null},"x2":{"field":"t"},"y":{"field":"pMid","type":"quantitative","title":null}}},
{"data":{"name":"tags"},"mark":{"type":"rect","fill":"transparent","stroke":"#ff0000","strokeWidth":1},"encoding":{"x":{"field":"t","type":"temporal","title":null},"x2":{"field":"t2"},"y":{"field":"pTop","type":"quantitative","title":null},"y2":{"field":"pBot"}}},
{"data":{"name":"tags"},"mark":{"type":"text","color":"#ff0000","font":"Liberation Sans","fontSize":15.5,"align":"center","baseline":"middle"},"encoding":{"x":{"field":"tm","type":"temporal","title":null},"y":{"field":"pMid","type":"quantitative","title":null},"text":{"field":"s"}}},
{"data":{"name":"ink"},"mark":{"type":"line","color":"#ed1c24","strokeWidth":3.5,"interpolate":"cardinal"},"encoding":{"x":{"field":"t","type":"temporal","title":null},"y":{"field":"p","type":"quantitative","title":null},"detail":{"field":"id"},"order":{"field":"i","type":"quantitative"}}},
{"data":{"name":"axisTags"},"mark":{"type":"bar","size":78,"color":"#ff0000"},"encoding":{"x":{"field":"t","type":"temporal","title":null},"y":{"field":"pTop","type":"quantitative","title":null},"y2":{"field":"pBot"}}},
{"data":{"name":"axisTags"},"mark":{"type":"text","color":"#ffffff","font":"Liberation Sans","fontSize":10,"align":"center","baseline":"middle"},"encoding":{"x":{"field":"t","type":"temporal","title":null},"y":{"field":"pMid","type":"quantitative","title":null},"text":{"field":"s"}}},
{"data":{"values":[{"t":"2022-04-27T16:05:52","t2":"2022-04-27T16:15:37","p":1.061052,"p2":1.060964}]},"mark":{"type":"rect","color":"#000000"},"encoding":{"x":{"field":"t","type":"temporal","title":null},"x2":{"field":"t2"},"y":{"field":"p","type":"quantitative","title":null},"y2":{"field":"p2"}}},
{"data":{"values":[{"t":"2022-04-27T16:10:45","p":1.06101,"s":"1.06101"}]},"mark":{"type":"text","color":"#ffffff","font":"Liberation Sans","fontSize":10,"align":"center","baseline":"middle"},"encoding":{"x":{"field":"t","type":"temporal","title":null},"y":{"field":"p","type":"quantitative","title":null},"text":{"field":"s"}}},
{"data":{"values":[{"t":"2022-04-27T08:21:03","p":1.065548,"s":"EURUSD, M1:  Euro vs United States Dollar  1.06088 1.06106 1.06081 1.06101"}]},"mark":{"type":"text","color":"#000000","font":"Liberation Sans","fontSize":9.6,"align":"left","baseline":"middle"},"encoding":{"x":{"field":"t","type":"temporal","title":null},"y":{"field":"p","type":"quantitative","title":null},"text":{"field":"s"}}},
{"data":{"values":[{"t":"2022-04-27T16:04:37","p":1.065398,"s":"0:12"}]},"mark":{"type":"text","color":"#000000","font":"Liberation Sans","fontSize":17,"align":"right","baseline":"middle"},"encoding":{"x":{"field":"t","type":"temporal","title":null},"y":{"field":"p","type":"quantitative","title":null},"text":{"field":"s"}}},
{"data":{"values":[{"t":"2022-04-27T08:20:37","p":1.062466,"s":"NY 05:33"}]},"mark":{"type":"text","color":"#000000","font":"Liberation Sans","fontSize":14,"align":"left","baseline":"middle"},"encoding":{"x":{"field":"t","type":"temporal","title":null},"y":{"field":"p","type":"quantitative","title":null},"text":{"field":"s"}}}
]}
